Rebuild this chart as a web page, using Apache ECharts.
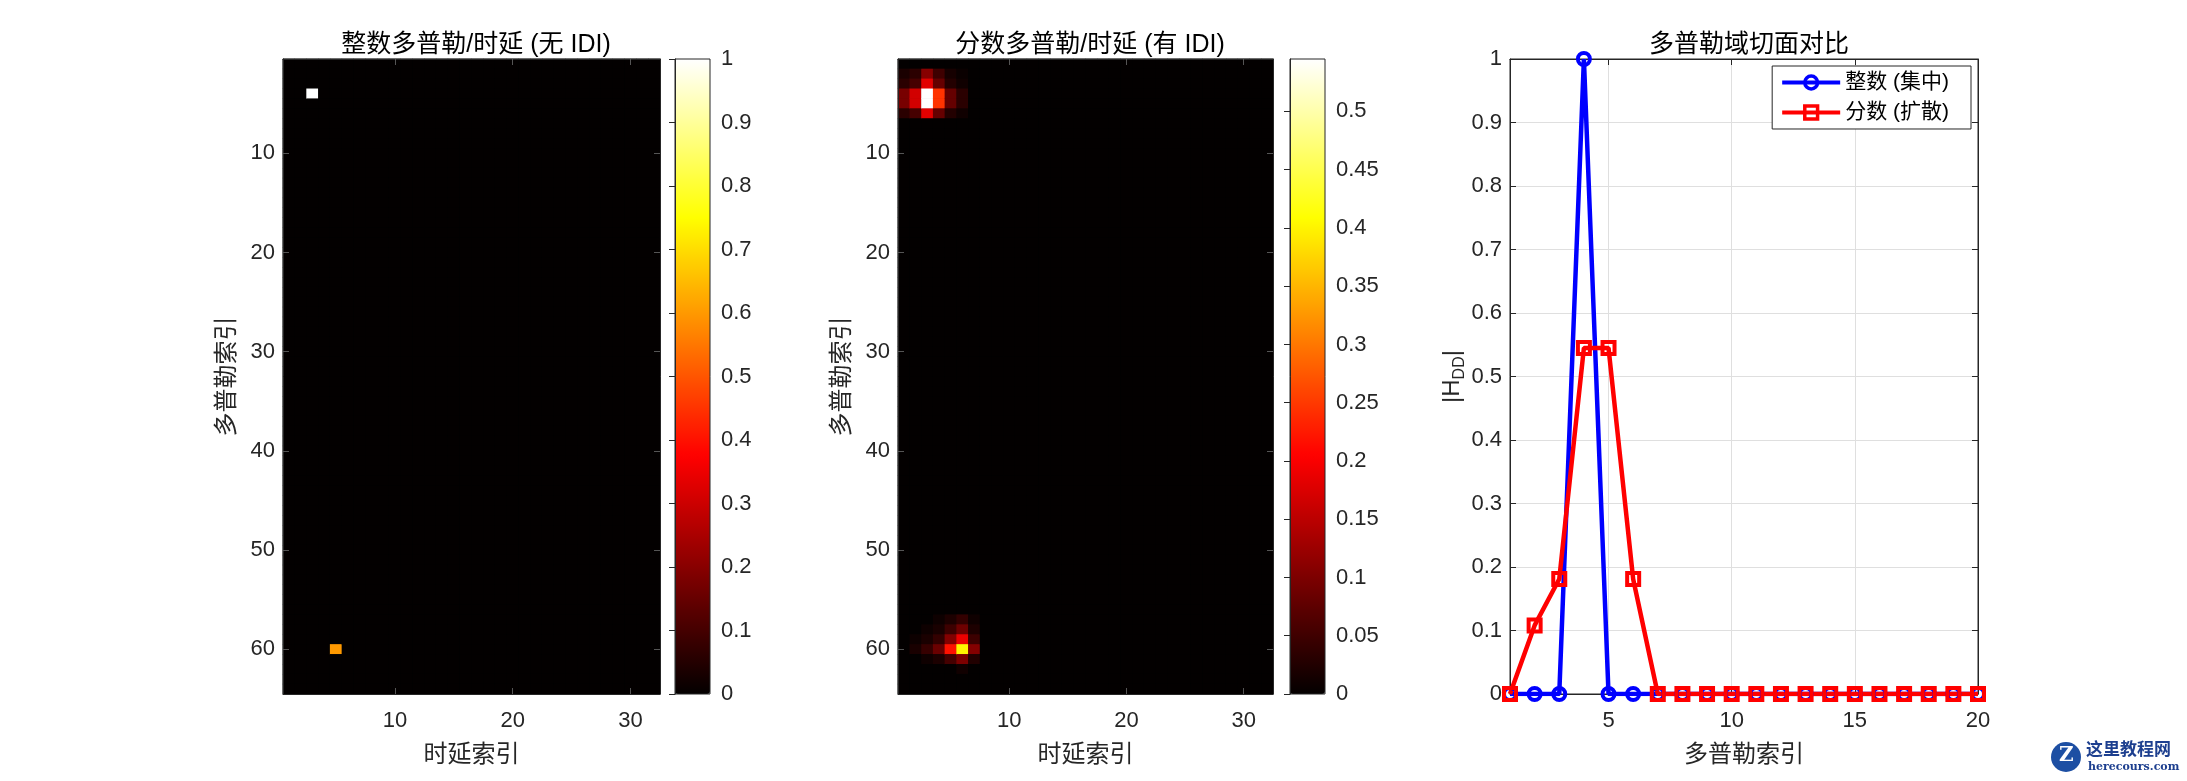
<!DOCTYPE html>
<html><head><meta charset="utf-8">
<script src="https://cdn.jsdelivr.net/npm/echarts@6/dist/echarts.min.js"></script>
<style>html,body{margin:0;padding:0;background:#fff}#c{width:2187px;height:781px}</style>
</head><body><div id="c"></div>
<script>
// ---------------- data ----------------
const delayCategories = Array.from({length: 32}, (_, i) => String(i + 1));
const dopplerCategories = Array.from({length: 64}, (_, i) => String(i + 1));
const heatTickEvery = 10;

// [delay index, doppler index, |H|]
const integerCells = [
  [3, 4, 1.0],
  [5, 60, 0.6]
];
const fractionalCells = [
  [1,2,0.019],[2,2,0.033],[3,2,0.108],[4,2,0.049],[5,2,0.016],[6,2,0.006],
  [1,3,0.032],[2,3,0.056],[3,3,0.181],[4,3,0.081],[5,3,0.027],[6,3,0.011],
  [1,4,0.096],[2,4,0.168],[3,4,0.545],[4,4,0.245],[5,4,0.080],[6,4,0.032],
  [1,5,0.096],[2,5,0.168],[3,5,0.545],[4,5,0.245],[5,5,0.080],[6,5,0.032],
  [1,6,0.032],[2,6,0.056],[3,6,0.181],[4,6,0.081],[5,6,0.027],[6,6,0.011],
  [4,57,0.009],[5,57,0.022],[6,57,0.040],[7,57,0.010],
  [3,58,0.009],[4,58,0.018],[5,58,0.048],[6,58,0.088],[7,58,0.022],
  [2,59,0.008],[3,59,0.019],[4,59,0.040],[5,59,0.105],[6,59,0.188],[7,59,0.047],
  [2,60,0.018],[3,60,0.042],[4,60,0.085],[5,60,0.218],[6,60,0.400],[7,60,0.105],
  [3,61,0.010],[4,61,0.021],[5,61,0.055],[6,61,0.100],[7,61,0.025],
  [6,62,0.012]
];
const integerMax = 1;
const fractionalMax = 0.545;

const sliceDoppler = [1,2,3,4,5,6,7,8,9,10,11,12,13,14,15,16,17,18,19,20];
const integerSlice = [0,0,0,1,0,0,0,0,0,0,0,0,0,0,0,0,0,0,0,0];
const fractionalSlice = [0,0.108,0.181,0.545,0.545,0.181,0,0,0,0,0,0,0,0,0,0,0,0,0,0];
const sliceTicks = [5,10,15,20];
const legendNames = ['整数 (集中)', '分数 (扩散)'];
const titles = ['整数多普勒/时延 (无 IDI)', '分数多普勒/时延 (有 IDI)', '多普勒域切面对比'];

// ---------------- helpers ----------------
const FONT = "'Liberation Sans', 'Noto Sans CJK SC', sans-serif";
const AX = '#262626';
const TICK_FS = 22;
const LABEL_FS = 24;
const hot = ['#030000','#550000','#aa0000','#ff0000','#ff5500','#ffaa00','#ffff00','#ffff80','#ffffff'];

function fullGrid(cells) {
  const m = {};
  cells.forEach(c => { m[c[0] + ',' + c[1]] = c[2]; });
  const out = [];
  for (let d = 0; d < delayCategories.length; d++) {
    for (let r = 0; r < dopplerCategories.length; r++) {
      const key = delayCategories[d] + ',' + dopplerCategories[r];
      out.push([d, r, m[key] || 0]);
    }
  }
  return out;
}
const tickFn = (idx) => (idx + 1) % heatTickEvery === 0;

function heatX(gridIndex, pos, withName) {
  return {
    type: 'category', gridIndex, position: pos, data: delayCategories, z: 5,
    name: withName ? '时延索引' : '', nameLocation: 'middle', nameGap: 49,
    nameTextStyle: {fontFamily: FONT, fontSize: LABEL_FS, color: AX},
    axisLine: {show: true, lineStyle: {color: AX, width: 1}},
    axisTick: {show: true, inside: true, length: 6, interval: tickFn, alignWithLabel: true, lineStyle: {color: '#555'}},
    axisLabel: {show: pos === 'bottom', interval: tickFn, margin: 16, fontFamily: FONT, fontSize: TICK_FS, color: AX},
    splitLine: {show: false}
  };
}
function heatY(gridIndex, pos, withName) {
  return {
    type: 'category', gridIndex, position: pos, data: dopplerCategories, inverse: true, z: 5,
    name: withName ? '多普勒索引' : '', nameLocation: 'middle', nameGap: 44, nameRotate: 90,
    nameTextStyle: {fontFamily: FONT, fontSize: LABEL_FS, color: AX},
    axisLine: {show: true, lineStyle: {color: AX, width: 1}},
    axisTick: {show: true, inside: true, length: 6, interval: tickFn, alignWithLabel: true, lineStyle: {color: '#555'}},
    axisLabel: {show: pos === 'left', interval: tickFn, margin: 8, fontFamily: FONT, fontSize: TICK_FS, color: AX},
    splitLine: {show: false}
  };
}
function cbarX(gridIndex) {
  return {type: 'value', gridIndex, min: 0, max: 1, show: false};
}
function cbarY(gridIndex, max, interval) {
  return {
    type: 'value', gridIndex, position: 'right', min: 0, max, interval, z: 10,
    axisLine: {show: true, lineStyle: {color: AX}},
    axisTick: {show: true, inside: true, length: 6, lineStyle: {color: AX}},
    axisLabel: {show: true, margin: 11, fontFamily: FONT, fontSize: TICK_FS, color: AX, showMaxLabel: max === 1},
    splitLine: {show: false}
  };
}

const heat1 = fullGrid(integerCells);
const heat2 = fullGrid(fractionalCells);
const lineBlue = sliceDoppler.map((d, i) => [d, integerSlice[i]]);
const lineRed = sliceDoppler.map((d, i) => [d, fractionalSlice[i]]);

const chart = echarts.init(document.getElementById('c'), null, {renderer: 'canvas'});
const titleStyle = {fontFamily: FONT, fontSize: 25, fontWeight: 'normal', color: '#000'};

chart.setOption({
  animation: false,
  backgroundColor: '#ffffff',
  title: [
    {text: titles[0], left: 471, top: 28, textAlign: 'center', textStyle: titleStyle},
    {text: titles[1], left: 1085, top: 28, textAlign: 'center', textStyle: titleStyle},
    {text: titles[2], left: 1744, top: 28, textAlign: 'center', textStyle: titleStyle}
  ],
  grid: [
    {left: 283, top: 59, width: 377, height: 635, show: true, borderColor: AX, borderWidth: 1, backgroundColor: '#000'},
    {left: 675, top: 59, width: 35, height: 635, show: true, borderColor: AX, borderWidth: 1, backgroundColor: 'transparent', z: 10},
    {left: 898, top: 59, width: 375, height: 635, show: true, borderColor: AX, borderWidth: 1, backgroundColor: '#000'},
    {left: 1290, top: 59, width: 35, height: 635, show: true, borderColor: AX, borderWidth: 1, backgroundColor: 'transparent', z: 10},
    {left: 1510, top: 59, width: 468, height: 635, show: true, borderColor: AX, borderWidth: 1, backgroundColor: '#fff'}
  ],
  xAxis: [
    heatX(0, 'bottom', true), heatX(0, 'top', false),
    cbarX(1),
    heatX(2, 'bottom', true), heatX(2, 'top', false),
    cbarX(3),
    {
      type: 'value', gridIndex: 4, position: 'bottom', min: 1, max: 20,
      name: '多普勒索引', nameLocation: 'middle', nameGap: 49,
      nameTextStyle: {fontFamily: FONT, fontSize: LABEL_FS, color: AX},
      axisLine: {show: true, onZero: false, lineStyle: {color: AX}},
      axisTick: {show: true, inside: true, length: 6, customValues: sliceTicks, lineStyle: {color: AX}},
      axisLabel: {show: true, customValues: sliceTicks, margin: 16, fontFamily: FONT, fontSize: TICK_FS, color: AX},
      splitLine: {show: true, lineStyle: {color: '#dfdfdf', width: 1}}
    },
    {
      type: 'value', gridIndex: 4, position: 'top', min: 1, max: 20,
      axisLine: {show: true, onZero: false, lineStyle: {color: AX}},
      axisTick: {show: true, inside: true, length: 6, customValues: sliceTicks, lineStyle: {color: AX}},
      axisLabel: {show: false, customValues: sliceTicks},
      splitLine: {show: false}
    }
  ],
  yAxis: [
    heatY(0, 'left', true), heatY(0, 'right', false),
    cbarY(1, integerMax, 0.1),
    heatY(2, 'left', true), heatY(2, 'right', false),
    cbarY(3, fractionalMax, 0.05),
    {
      type: 'value', gridIndex: 4, position: 'left', min: 0, max: 1, interval: 0.1,
      name: '{a||H}{s|DD}{a||}', nameLocation: 'middle', nameGap: 40, nameRotate: 90,
      nameTextStyle: {fontFamily: FONT, fontSize: LABEL_FS, color: AX,
        rich: {
          a: {fontFamily: FONT, fontSize: LABEL_FS, color: AX, verticalAlign: 'top', lineHeight: 27},
          s: {fontFamily: FONT, fontSize: 16, color: AX, verticalAlign: 'bottom', lineHeight: 16, padding: [16, 0, 0, 0]}
        }},
      axisLine: {show: true, onZero: false, lineStyle: {color: AX}},
      axisTick: {show: true, inside: true, length: 6, lineStyle: {color: AX}},
      axisLabel: {show: true, margin: 8, fontFamily: FONT, fontSize: TICK_FS, color: AX},
      splitLine: {show: true, lineStyle: {color: '#dfdfdf', width: 1}}
    },
    {
      type: 'value', gridIndex: 4, position: 'right', min: 0, max: 1, interval: 0.1,
      axisLine: {show: true, onZero: false, lineStyle: {color: AX}},
      axisTick: {show: true, inside: true, length: 6, lineStyle: {color: AX}},
      axisLabel: {show: false},
      splitLine: {show: false}
    }
  ],
  visualMap: [
    {type: 'continuous', seriesIndex: 0, min: 0, max: integerMax, left: 675, top: 59,
     itemWidth: 35, itemHeight: 635, padding: 0, calculable: false, hoverLink: false,
     inRange: {color: hot}},
    {type: 'continuous', seriesIndex: 1, min: 0, max: fractionalMax, left: 1290, top: 59,
     itemWidth: 35, itemHeight: 635, padding: 0, calculable: false, hoverLink: false,
     inRange: {color: hot}}
  ],
  legend: {
    data: legendNames, orient: 'vertical', right: 216, top: 66,
    backgroundColor: '#fff', borderColor: AX, borderWidth: 1, borderRadius: 0,
    padding: [6, 22, 6, 8], itemWidth: 58, itemHeight: 16, itemGap: 9,
    lineStyle: {width: 4},
    itemStyle: {borderWidth: 3.5},
    textStyle: {fontFamily: FONT, fontSize: 21, color: '#000'}
  },
  series: [
    {type: 'heatmap', xAxisIndex: 0, yAxisIndex: 0, data: heat1, progressive: 0, emphasis: {disabled: true}},
    {type: 'heatmap', xAxisIndex: 3, yAxisIndex: 3, data: heat2, progressive: 0, emphasis: {disabled: true}},
    {type: 'line', name: legendNames[0], xAxisIndex: 6, yAxisIndex: 6, data: lineBlue,
     symbol: 'circle', symbolSize: 12, showAllSymbol: true,
     lineStyle: {color: '#0000ff', width: 4.5},
     itemStyle: {color: 'rgba(0,0,0,0)', borderColor: '#0000ff', borderWidth: 4}},
    {type: 'line', name: legendNames[1], xAxisIndex: 6, yAxisIndex: 6, data: lineRed,
     symbol: 'rect', symbolSize: 12, showAllSymbol: true,
     lineStyle: {color: '#ff0000', width: 4.5},
     itemStyle: {color: 'rgba(0,0,0,0)', borderColor: '#ff0000', borderWidth: 4}}
  ],
  graphic: [
    {type: 'circle', shape: {cx: 2066, cy: 757, r: 15}, style: {fill: '#1d4fa3'}},
    {type: 'text', x: 2059, y: 746, style: {text: 'Z', fill: '#fff', font: "bold 20px 'DejaVu Serif'"}},
    {type: 'text', x: 2086, y: 740, style: {text: '这里教程网', fill: '#1d3f8f', font: "bold 17px 'Noto Sans CJK SC'"}},
    {type: 'text', x: 2088, y: 762, style: {text: 'herecours.com', fill: '#1d3f8f', font: "bold 11px 'DejaVu Serif'"}}
  ]
});
</script>
</body></html>
